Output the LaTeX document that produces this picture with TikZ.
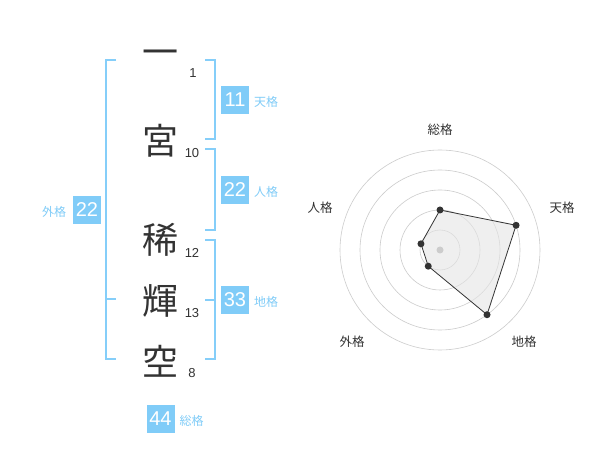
\documentclass[tikz,border=0pt]{standalone}
\usepackage{fontspec}
\setmainfont{Liberation Sans}
\newfontfamily\jpfont{Noto Sans CJK JP}
\usetikzlibrary{positioning}

\begin{document}
\begin{tikzpicture}[x=1pt,y=-1pt,
  kanji/.style={text=inkColor,anchor=center,inner sep=0pt,outer sep=0pt,font=\jpfont\fontsize{36}{36}\selectfont},
  strokecount/.style={text=inkColor,anchor=center,inner sep=0pt,outer sep=0pt,font=\fontsize{13}{13}\selectfont},
  scorebox/.style={fill=boxColor,text=white,minimum size=28pt,inner sep=0pt,outer sep=0pt,font=\fontsize{20}{20}\selectfont},
  kakulabel/.style={text=boxColor,inner sep=0pt,outer sep=0pt,font=\jpfont\fontsize{12}{12}\selectfont},
  bracket/.style={draw=lineColor,line width=1.8pt},
  ring/.style={draw=ringColor,line width=0.6pt},
  axislabel/.style={text=inkColor,anchor=center,inner sep=0pt,outer sep=0pt,font=\jpfont\fontsize{12.5}{12.5}\selectfont},
  dot/.style={circle,fill=inkColor,inner sep=0pt,minimum size=7pt}]
\definecolor{fillColor}{RGB}{255,255,255}
\path[use as bounding box,fill=fillColor] (0,0) rectangle (600,470);
\definecolor{inkColor}{RGB}{51,51,51}
\definecolor{boxColor}{RGB}{128,204,248}
\definecolor{lineColor}{RGB}{133,206,249}
\definecolor{ringColor}{RGB}{204,204,204}

% name, one character per line
\node[kanji] (k1) at (160, 58) {一};
\node[kanji] (k2) at (160,141) {宮};
\node[kanji] (k3) at (160,240) {稀};
\node[kanji] (k4) at (160,301) {輝};
\node[kanji] (k5) at (160,361) {空};

\node[strokecount] (n1) at (193, 73) {1};
\node[strokecount] (n2) at (192,153) {10};
\node[strokecount] (n3) at (192,253) {12};
\node[strokecount] (n4) at (192,313) {13};
\node[strokecount] (n5) at (192,373) {8};

% brackets
\path[bracket] (116, 60) -- (106, 60) -- (106,359) -- (116,359);
\path[bracket] (106,299) -- (116,299);
\path[bracket] (205, 60) -- (215, 60) -- (215,139) -- (205,139);
\path[bracket] (205,149) -- (215,149) -- (215,230) -- (205,230);
\path[bracket] (205,240) -- (215,240) -- (215,359) -- (205,359);
\path[bracket] (205,300) -- (215,300);

% scores
\node[scorebox] (ten11) at (235,100) {11};
\node[scorebox] (jin22) at (235,190) {22};
\node[scorebox] (chi33) at (235,300) {33};
\node[scorebox] (gai22) at ( 87,210) {22};
\node[scorebox] (tot44) at (160.5,419) {44};

\node[kakulabel, right=5pt of ten11.base east, anchor=base west] (tenl) {天格};
\node[kakulabel, right=5pt of jin22.base east, anchor=base west] (jinl) {人格};
\node[kakulabel, right=5pt of chi33.base east, anchor=base west] (chil) {地格};
\node[kakulabel, left=7pt of gai22.base west, anchor=base east] (gail) {外格};
\node[kakulabel, right=5pt of tot44.base east, anchor=base west] (totl) {総格};

% radar
\begin{scope}[shift={(440,250)}]
\foreach \r in {20,40,60,80,100}
  \path[ring] (0,0) circle (\r);
\coordinate (tot) at (-90:40);
\coordinate (ten) at (-18:80);
\coordinate (chi) at ( 54:80);
\coordinate (gai) at (126:20);
\coordinate (jin) at (198:20);
\path[fill=black!10,fill opacity=0.6] (tot) -- (ten) -- (chi) -- (gai) -- (jin) -- cycle;
\path[draw=inkColor,line width=0.8pt] (tot) -- (ten) -- (chi) -- (gai) -- (jin) -- cycle;
\node[circle,fill=ringColor,inner sep=0pt,minimum size=7pt] (mid) at (0,0) {};
\foreach \p in {tot,ten,chi,gai,jin}
  \node[dot] at (\p) {};
\end{scope}

\node[axislabel] (totax) at (440,130) {総格};
\node[axislabel] (tenax) at (562,208) {天格};
\node[axislabel] (chiax) at (524,342) {地格};
\node[axislabel] (gaiax) at (352,342) {外格};
\node[axislabel] (jinax) at (320,208) {人格};
\end{tikzpicture}
\end{document}
